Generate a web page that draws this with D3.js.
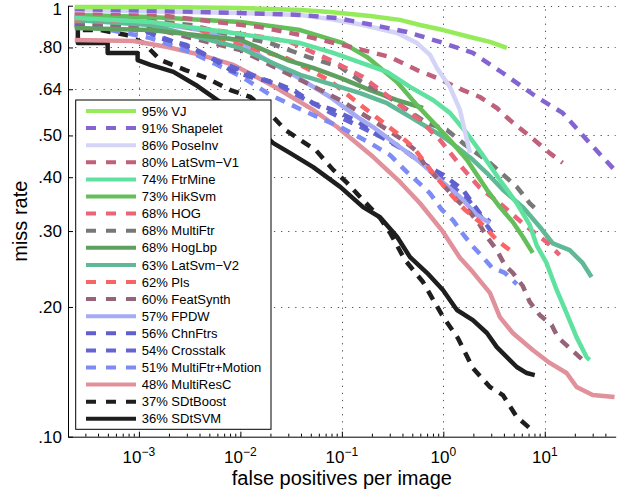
<!DOCTYPE html>
<html><head><meta charset="utf-8">
<script src="https://cdn.jsdelivr.net/npm/d3@7"></script>
<style>
body{margin:0;background:#fff;}
svg{display:block;}
text{font-family:"Liberation Sans",Arial,Helvetica,sans-serif;fill:#000;}
</style>
</head><body>
<svg id="chart" width="623" height="492"></svg>
<script>
// ---------------- data ----------------
const methodNames = ["VJ","Shapelet","PoseInv","LatSvm\u2212V1","FtrMine","HikSvm","HOG","MultiFtr","HogLbp","LatSvm\u2212V2","Pls","FeatSynth","FPDW","ChnFtrs","Crosstalk","MultiFtr+Motion","MultiResC","SDtBoost","SDtSVM"];
const logAvgMiss = [95,91,86,80,74,73,68,68,68,63,62,60,57,56,54,51,48,37,36];

const fppiVJ = [2.33e-4,0.00163,0.01,0.0389,0.0767,0.19,0.374,0.589,1.0,1.83,2.88,4.23];
const missVJ = [0.993,0.993,0.988,0.977,0.967,0.946,0.927,0.902,0.878,0.846,0.824,0.798];

const fppiShapelet = [2.33e-4,0.01,0.0389,0.09,0.203,0.439,0.927,1.956,3.86,8.32,15.0,27.7,48.7];
const missShapelet = [0.982,0.962,0.952,0.936,0.902,0.869,0.824,0.777,0.698,0.614,0.564,0.480,0.416];

const fppiPoseInv = [2.33e-4,0.01,0.0389,0.0767,0.162,0.35,0.55,0.739,0.865,1.162,1.458,1.708,1.828];
const missPoseInv = [0.977,0.962,0.952,0.931,0.902,0.864,0.819,0.769,0.717,0.648,0.573,0.488,0.455];

const fppiLatSvmV1 = [2.33e-4,0.0013,0.00568,0.01574,0.0389,0.0767,0.162,0.299,0.55,0.865,1.56,2.29,3.37,4.52,8.32,11.2,15.0];
const missLatSvmV1 = [0.962,0.957,0.917,0.892,0.855,0.824,0.789,0.760,0.709,0.680,0.637,0.614,0.579,0.543,0.483,0.455,0.432];

const fppiFtrMine = [2.33e-4,0.0013,0.00853,0.0389,0.0822,0.1775,0.279,0.47,0.791,1.162,1.708,2.45,3.61,5.30,7.11,8.32,10.4,13.1,16.4,20.6,25.8,27.7];
const missFtrMine = [0.936,0.917,0.864,0.819,0.777,0.729,0.702,0.648,0.604,0.564,0.506,0.450,0.394,0.348,0.310,0.278,0.253,0.219,0.1936,0.170,0.153,0.1507];

const fppiHikSvm = [2.33e-4,0.0013,0.01,0.0389,0.1031,0.1775,0.35,0.55,0.791,1.162,1.708,2.69,3.61,4.84,6.07,7.61];
const missHikSvm = [0.952,0.941,0.917,0.878,0.819,0.760,0.665,0.588,0.537,0.488,0.439,0.374,0.341,0.315,0.291,0.267];

const fppiHOG = [2.33e-4,0.0013,0.01254,0.031,0.0767,0.162,0.35,0.589,0.927,1.458,2.29,3.61,6.64,10.4,14.0];
const missHOG = [0.931,0.917,0.855,0.824,0.748,0.683,0.594,0.543,0.488,0.427,0.378,0.348,0.307,0.283,0.264];

const fppiMultiFtr = [2.33e-4,5.64e-4,3.22e-3,0.01,0.01972,0.0467,0.0964,0.162,0.32,0.69,1.086,1.56,2.88,5.30,7.11,8.32];
const missMultiFtr = [0.941,0.941,0.902,0.846,0.819,0.760,0.721,0.662,0.604,0.534,0.515,0.480,0.432,0.380,0.348,0.336];

const fppiHogLbp = [2.33e-4,0.0013,0.01,0.029,0.0522,0.0964,0.19,0.35,0.631];
const missHogLbp = [0.888,0.878,0.833,0.748,0.717,0.680,0.637,0.604,0.579];

const fppiLatSvmV2 = [2.33e-4,0.0013,0.01,0.01972,0.0389,0.0822,0.1514,0.279,0.47,0.69,1.0,1.362,1.956,2.69,3.86,6.07,8.91,12.0,17.6,23.6,28.9];
const missLatSvmV2 = [0.927,0.902,0.798,0.740,0.691,0.655,0.627,0.594,0.552,0.523,0.496,0.470,0.439,0.409,0.374,0.341,0.307,0.281,0.271,0.253,0.2347];

const fppiPls = [2.33e-4,0.00163,0.00404,0.00713,0.01503,0.0283,0.0446,0.0767,0.162,0.35,0.502,0.791,1.162,1.632,2.29,3.37,4.52];
const missPls = [0.922,0.917,0.878,0.828,0.789,0.756,0.717,0.669,0.582,0.506,0.470,0.409,0.367,0.336,0.315,0.286,0.271];

const fppiFeatSynth = [2.33e-4,0.0013,0.01,0.031,0.0964,0.2225,0.374,0.526,0.66,1.362,1.828,2.29,2.69,3.37,4.04,4.84,6.07,7.11,8.91,11.7,13.4,22.0,25.8];
const missFeatSynth = [0.917,0.888,0.789,0.691,0.604,0.534,0.493,0.463,0.427,0.354,0.332,0.310,0.291,0.271,0.250,0.240,0.2237,0.2054,0.1916,0.1816,0.1703,0.1530,0.1483];

const fppiFPDW = [2.33e-4,0.0013,0.00404,0.01,0.01683,0.0364,0.0767,0.1416,0.203,0.35,0.589,0.927,1.458,2.14,2.88];
const missFPDW = [0.946,0.917,0.878,0.824,0.756,0.683,0.614,0.552,0.523,0.475,0.434,0.394,0.360,0.327,0.313];

const fppiChnFtrs = [2.33e-4,4.81e-4,1.04e-3,1.63e-3,2.94e-3,4.63e-3,7.98e-3,0.01343,0.0211,0.0332,0.0522,0.0822,0.1353,0.213,0.35,0.589,1.0,1.56,2.29,2.88];
const missChnFtrs = [0.907,0.902,0.888,0.841,0.811,0.769,0.709,0.680,0.665,0.637,0.594,0.573,0.543,0.506,0.475,0.434,0.405,0.374,0.330,0.315];

const fppiCrosstalk = [2.33e-4,6.61e-4,1.30e-3,3.22e-3,6.36e-3,0.01254,0.02476,0.0446,0.0822,0.1416,0.255,0.439,0.739,1.162,1.708,2.29,2.88,3.37];
const missCrosstalk = [0.897,0.892,0.864,0.798,0.740,0.694,0.651,0.604,0.561,0.528,0.493,0.458,0.416,0.384,0.358,0.327,0.302,0.289];

const fppiMultiFtrMotion = [2.33e-4,5.27e-4,1.30e-3,3.22e-3,5.68e-3,0.01,0.01972,0.0446,0.0964,0.19,0.299,0.439,0.589,0.739,0.969,1.244,1.53,1.915,2.45,3.01,4.04,5.30];
const missMultiFtrMotion = [0.902,0.878,0.841,0.781,0.732,0.687,0.621,0.567,0.523,0.480,0.450,0.411,0.386,0.367,0.336,0.318,0.297,0.278,0.261,0.247,0.240,0.226];

const fppiMultiResC = [2.33e-4,8.87e-4,1.91e-3,4.04e-3,8.53e-3,0.0211,0.0522,0.09,0.203,0.374,0.589,0.991,1.458,1.956,2.88,3.61,4.84,7.61,11.2,16.4,20.6,29.6,48.7];
const missMultiResC = [0.833,0.828,0.802,0.769,0.729,0.651,0.573,0.523,0.446,0.390,0.348,0.299,0.260,0.241,0.2156,0.1895,0.174,0.1589,0.1483,0.1405,0.1304,0.1249,0.1236];

const fppiSDtBoost = [2.50e-4,2.50e-4,4.20e-4,7.57e-4,1.11e-3,1.63e-3,2.88e-3,4.63e-3,7.98e-3,0.01254,0.0197,0.0277,0.0389,0.0551,0.0822,0.1127,0.1514,0.238,0.299,0.419,0.631,0.969,1.39,1.956,2.88,3.86,5.30,7.11];
const missSDtBoost = [0.941,0.878,0.878,0.855,0.819,0.748,0.709,0.680,0.637,0.614,0.561,0.515,0.488,0.463,0.416,0.388,0.360,0.3216,0.297,0.257,0.2285,0.1916,0.1694,0.1443,0.1304,0.1249,0.1111,0.1047];

const fppiSDtSVM = [2.50e-4,2.50e-4,4.92e-4,4.92e-4,9.71e-4,9.71e-4,1.30e-3,2.19e-3,3.78e-3,5.94e-3,0.01127,0.0211,0.031,0.0522,0.0964,0.162,0.238,0.35,0.47,0.69,0.991,1.362,1.956,2.69,3.37,4.23,5.30,6.64,7.96];
const missSDtSVM = [0.941,0.819,0.819,0.777,0.777,0.748,0.729,0.702,0.651,0.604,0.549,0.480,0.455,0.422,0.380,0.341,0.323,0.291,0.261,0.240,0.219,0.1968,0.1865,0.174,0.1614,0.153,0.1451,0.1405,0.139];

const seriesFppi = [fppiVJ,fppiShapelet,fppiPoseInv,fppiLatSvmV1,fppiFtrMine,fppiHikSvm,fppiHOG,fppiMultiFtr,fppiHogLbp,fppiLatSvmV2,fppiPls,fppiFeatSynth,fppiFPDW,fppiChnFtrs,fppiCrosstalk,fppiMultiFtrMotion,fppiMultiResC,fppiSDtBoost,fppiSDtSVM];
const seriesMiss = [missVJ,missShapelet,missPoseInv,missLatSvmV1,missFtrMine,missHikSvm,missHOG,missMultiFtr,missHogLbp,missLatSvmV2,missPls,missFeatSynth,missFPDW,missChnFtrs,missCrosstalk,missMultiFtrMotion,missMultiResC,missSDtBoost,missSDtSVM];

const xTickValues = [1e-3,1e-2,1e-1,1,10];
const xTickExponents = ["\u22123","\u22122","\u22121","0","1"];
const yTickValues = [0.1,0.2,0.3,0.4,0.5,0.64,0.8,1];
const yTickLabels = [".10",".20",".30",".40",".50",".64",".80","1"];
const xDomain = [2e-4,50];
const yDomain = [0.1,1];

// ---------------- styles ----------------
const seriesColors = ["#96EB5A","#8464D2","#D4D4F6","#C0607A","#5FE1A0","#64BE5A","#EB6478","#787878","#5FA05F","#5FB996","#FA6464","#966478","#A5AAF5","#5F5FCD","#6464D2","#7D8CF5","#E1919B","#1E1E1E","#1E1E1E"];
const seriesDashed = [false,true,false,true,false,false,true,true,false,false,true,true,false,true,true,true,false,true,false];

const L=68, R=615.7, T=5.7, B=436.7;
const svg = d3.select("#chart");
const x = d3.scaleLog().domain(xDomain).range([L,R]);
const y = d3.scaleLog().domain(yDomain).range([B,T]);

svg.append("rect").attr("width",623).attr("height",492).attr("fill","#fff");

// grid
const grid = svg.append("g").attr("stroke","#555").attr("stroke-width",1).attr("stroke-dasharray","1.3,5.8");
grid.selectAll("line.v").data(xTickValues).enter().append("line")
  .attr("x1",d=>Math.round(x(d))+0.5).attr("x2",d=>Math.round(x(d))+0.5)
  .attr("y1",B).attr("y2",T);
grid.selectAll("line.h").data(yTickValues.filter(v=>v>0.1)).enter().append("line")
  .attr("x1",L).attr("x2",R)
  .attr("y1",d=>Math.round(y(d))+0.5).attr("y2",d=>Math.round(y(d))+0.5);

// curves
svg.append("clipPath").attr("id","plotclip").append("rect")
  .attr("x",L).attr("y",T-3).attr("width",R-L).attr("height",B-T+3);
const lineGen = d3.line().x(d=>x(d[0])).y(d=>y(d[1]));
const curves = svg.append("g").attr("clip-path","url(#plotclip)");
const order = d3.range(methodNames.length).reverse();
order.forEach(i=>{
  const pts = seriesFppi[i].map((f,k)=>[f, seriesMiss[i][k]]);
  curves.append("path").datum(pts)
    .attr("d",lineGen)
    .attr("fill","none")
    .attr("stroke",seriesColors[i])
    .attr("stroke-width",4.5)
    .attr("stroke-linejoin","round")
    .attr("stroke-dasharray",seriesDashed[i]?"10,8":null);
});

// axes
const yAxis = d3.axisLeft(y).tickValues(yTickValues)
  .tickFormat((d,i)=>yTickLabels[i]).tickSizeInner(-5).tickSizeOuter(0).tickPadding(6);
const gy = svg.append("g").attr("transform",`translate(${L},0)`).call(yAxis);
gy.selectAll("text").style("font-size","17px").attr("font-family",null);
gy.selectAll("text").filter(d=>d===1).attr("dy","0.5em");
gy.selectAll("path,line").attr("stroke","#000");

const xAxis = d3.axisBottom(x).tickValues(xTickValues).tickFormat("").tickSizeInner(-5).tickSizeOuter(0);
const gx = svg.append("g").attr("transform",`translate(0,${B})`).call(xAxis);
gx.selectAll("path,line").attr("stroke","#000");

// minor x ticks
const minor=[];
for(let e=-4;e<=1;e++){for(let k=2;k<=9;k++){const v=k*Math.pow(10,e); if(v>xDomain[0]&&v<xDomain[1]) minor.push(v);}}
gx.selectAll("line.minor").data(minor).enter().append("line").attr("class","minor")
  .attr("x1",d=>x(d)).attr("x2",d=>x(d)).attr("y1",0).attr("y2",-3).attr("stroke","#000");

// x tick labels with superscripts
xTickValues.forEach((v,i)=>{
  const t = svg.append("text").attr("x",x(v)).attr("y",463).attr("text-anchor","middle").style("font-size","17px");
  t.append("tspan").text("10");
  t.append("tspan").attr("dy",-7.5).style("font-size","12px").text(xTickExponents[i]);
});

// axis titles
svg.append("text").attr("x",(L+R)/2).attr("y",485).attr("text-anchor","middle")
  .style("font-size","20px").text("false positives per image");
svg.append("text").attr("transform",`translate(27,${(T+B)/2}) rotate(-90)`).attr("text-anchor","middle")
  .style("font-size","20px").text("miss rate");

// legend
const lg = svg.append("g");
lg.append("rect").attr("x",75.7).attr("y",100).attr("width",271-75.7).attr("height",429.3-100)
  .attr("fill","#fff").attr("stroke","#000").attr("stroke-width",1);
methodNames.forEach((name,i)=>{
  const cy = 111 + i*17.1;
  lg.append("line").attr("x1",86).attr("x2",136).attr("y1",cy).attr("y2",cy)
    .attr("stroke",seriesColors[i]).attr("stroke-width",4)
    .attr("stroke-dasharray",seriesDashed[i]?"10,10":null);
  lg.append("text").attr("x",141.7).attr("y",cy+4.6).style("font-size","13px")
    .text(logAvgMiss[i]+"% "+name);
});
</script>
</body></html>
